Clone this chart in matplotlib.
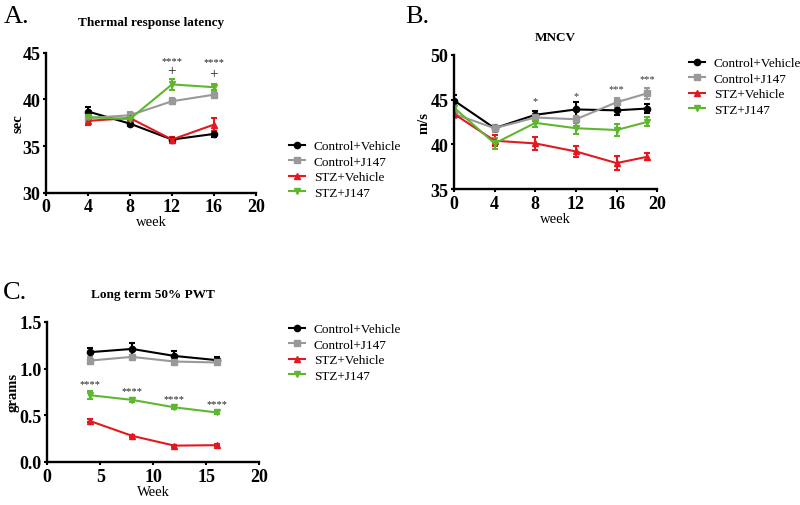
import numpy as np
import matplotlib
matplotlib.use("Agg")
import matplotlib.pyplot as plt
from matplotlib.lines import Line2D

plt.rcParams['font.family'] = ['Liberation Serif', 'DejaVu Serif']

groups = ["Control+Vehicle", "Control+J147", "STZ+Vehicle", "STZ+J147"]
colors = ["#000000", "#999999", "#e3191f", "#5fb730"]
markers = ["o", "s", "^", "v"]

# A. Thermal response latency (sec)
weeks_a = [4, 8, 12, 16]
lat_mean = [
    [38.7, 37.4, 35.7, 36.3],
    [38.0, 38.3, 39.8, 40.5],
    [37.7, 38.0, 35.7, 37.3],
    [38.1, 37.9, 41.6, 41.3],
]
lat_err = [
    [0.5, 0.2, 0.3, 0.3],
    [0.4, 0.3, 0.3, 0.3],
    [0.4, 0.2, 0.3, 0.7],
    [0.3, 0.2, 0.6, 0.3],
]
lat_sig_x = [12, 16]
lat_sig_y = [44.2, 44.0]
lat_plus_y = [43.1, 42.75]

# B. MNCV (m/s)
weeks_b = [0, 4, 8, 12, 16, 19]
mncv_mean = [
    [44.9, 41.8, 43.3, 43.9, 43.8, 44.0],
    [43.4, 41.8, 43.0, 42.8, 44.7, 45.7],
    [43.4, 40.4, 40.1, 39.2, 37.9, 38.6],
    [44.1, 40.1, 42.4, 41.8, 41.6, 42.5],
]
mncv_err = [
    [0.6, 0.4, 0.4, 0.8, 0.5, 0.5],
    [0.5, 0.4, 0.4, 0.4, 0.5, 0.6],
    [0.4, 0.6, 0.7, 0.6, 0.8, 0.4],
    [0.5, 0.6, 0.5, 0.6, 0.7, 0.5],
]
mncv_sig_x = [8, 12, 16, 19]
mncv_sig_y = [44.85, 45.5, 46.2, 47.4]
mncv_sig = ["*", "*", "***", "***"]

# C. Long term 50% PWT (grams)
weeks_c = [4, 8, 12, 16]
pwt_mean = [
    [1.175, 1.21, 1.135, 1.09],
    [1.085, 1.125, 1.075, 1.065],
    [0.44, 0.28, 0.175, 0.18],
    [0.715, 0.665, 0.585, 0.53],
]
pwt_err = [
    [0.05, 0.06, 0.05, 0.03],
    [0.04, 0.02, 0.02, 0.02],
    [0.015, 0.01, 0.01, 0.01],
    [0.04, 0.02, 0.02, 0.015],
]
pwt_sig_x = [4, 8, 12, 16]
pwt_sig_y = [0.84, 0.76, 0.68, 0.63]


def style_axis(ax):
    for s in ["top", "right"]:
        ax.spines[s].set_visible(False)
    for s in ["left", "bottom"]:
        ax.spines[s].set_linewidth(1.7)
    ax.tick_params(width=1.5, length=2.5, pad=1.5, labelsize=13)
    for lab in ax.get_xticklabels() + ax.get_yticklabels():
        lab.set_fontweight("bold")


def draw_series(ax, weeks, means, errs):
    for i in range(4):
        ax.errorbar(weeks, means[i], yerr=errs[i], color=colors[i],
                    marker=markers[i], markersize=4.5, linewidth=1.5,
                    elinewidth=1.5, capsize=2.5, capthick=1.5)


def add_legend(x, y):
    handles = [Line2D([], [], color=colors[i], marker=markers[i],
                      markersize=4.5, linewidth=1.5) for i in range(4)]
    fig.legend(handles, groups, loc="upper left",
               bbox_to_anchor=(x, y), frameon=False, fontsize=9.5,
               handlelength=1.2, labelspacing=0.25, handletextpad=0.7)


fig = plt.figure(figsize=(8, 5.06), dpi=100)

# panel A
ax_a = fig.add_axes([0.0575, 0.617, 0.2625, 0.277])
draw_series(ax_a, weeks_a, lat_mean, lat_err)
ax_a.set_xlim(0, 20)
ax_a.set_ylim(30, 45)
ax_a.set_xticks([0, 4, 8, 12, 16, 20])
ax_a.set_yticks([30, 35, 40, 45])
ax_a.set_xlabel("week", fontsize=10.5, labelpad=0)
ax_a.set_ylabel("sec", fontsize=10.5, fontweight="bold")
ax_a.yaxis.set_label_coords(-0.1, 0.5)
ax_a.set_title("Thermal response latency", fontsize=9.5, fontweight="bold", pad=20)
for x, y, yp in zip(lat_sig_x, lat_sig_y, lat_plus_y):
    ax_a.text(x, y, "****", ha="center", va="center", fontsize=7.5, color="#222222")
    ax_a.text(x, yp, "+", ha="center", va="center", fontsize=11, color="#222222")
style_axis(ax_a)
add_legend(0.346, 0.745)
fig.text(0.005, 0.955, "A.", fontsize=19)

# panel B
ax_b = fig.add_axes([0.5675, 0.6245, 0.254, 0.265])
draw_series(ax_b, weeks_b, mncv_mean, mncv_err)
ax_b.set_xlim(0, 20)
ax_b.set_ylim(35, 50)
ax_b.set_xticks([0, 4, 8, 12, 16, 20])
ax_b.set_yticks([35, 40, 45, 50])
ax_b.set_xlabel("week", fontsize=10.5, labelpad=0)
ax_b.set_ylabel("m/s", fontsize=10.5, fontweight="bold")
ax_b.yaxis.set_label_coords(-0.115, 0.5)
ax_b.set_title("MNCV", fontsize=9.5, fontweight="bold", pad=11)
for x, y, s in zip(mncv_sig_x, mncv_sig_y, mncv_sig):
    ax_b.text(x, y, s, ha="center", va="center", fontsize=7.5, color="#333333")
style_axis(ax_b)
add_legend(0.846, 0.909)
fig.text(0.506, 0.955, "B.", fontsize=19)

# panel C
ax_c = fig.add_axes([0.059, 0.085, 0.265, 0.277])
draw_series(ax_c, weeks_c, pwt_mean, pwt_err)
ax_c.set_xlim(0, 20)
ax_c.set_ylim(0, 1.5)
ax_c.set_xticks([0, 5, 10, 15, 20])
ax_c.set_yticks([0.0, 0.5, 1.0, 1.5])
ax_c.set_xlabel("Week", fontsize=10.5, labelpad=0)
ax_c.set_ylabel("grams", fontsize=10.5, fontweight="bold")
ax_c.yaxis.set_label_coords(-0.13, 0.5)
ax_c.set_title("Long term 50% PWT", fontsize=9.5, fontweight="bold", pad=18)
for x, y in zip(pwt_sig_x, pwt_sig_y):
    ax_c.text(x, y, "****", ha="center", va="center", fontsize=7.5, color="#222222")
style_axis(ax_c)
add_legend(0.346, 0.383)
fig.text(0.003, 0.41, "C.", fontsize=19)

fig.savefig("out.png", dpi=100)
